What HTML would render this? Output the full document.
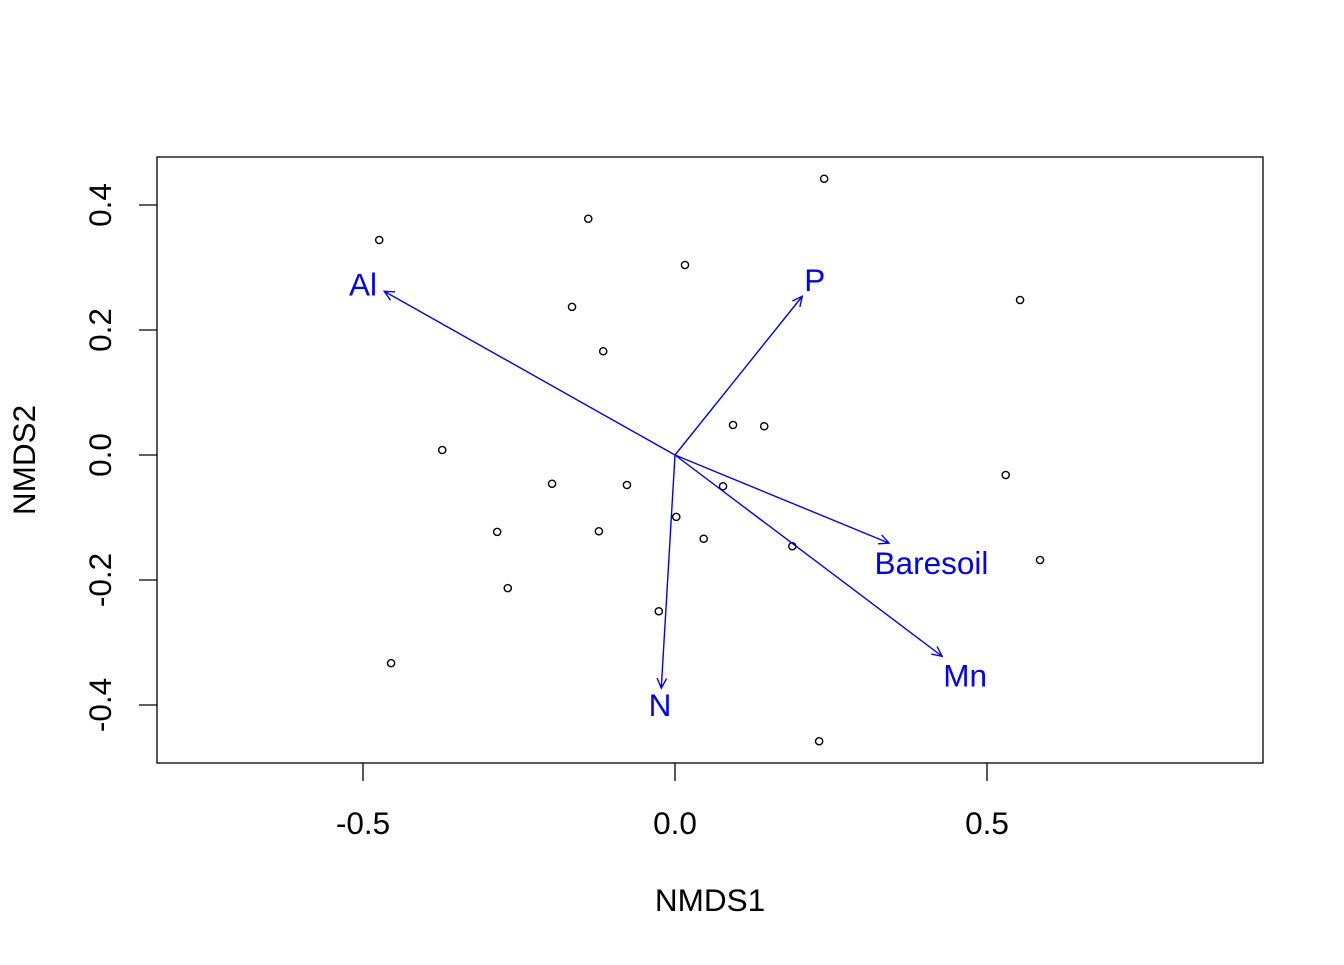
<!DOCTYPE html>
<html><head><meta charset="utf-8"><style>
body{margin:0;background:#fff}
svg text{font-family:"Liberation Sans",Arial,sans-serif}
</style></head><body>
<svg id="c" width="1344" height="960">
<rect x="157" y="157" width="1106" height="606" fill="none" stroke="#000" stroke-width="1.3"/>
<text x="710" y="911" font-size="31.5" text-anchor="middle">NMDS1</text>
<text transform="translate(35,460) rotate(-90)" font-size="31.5" text-anchor="middle">NMDS2</text>
</svg>
<script>
const siteX=[0.239,-0.139,-0.474,0.016,-0.165,-0.115,0.553,-0.373,0.093,0.143,-0.197,-0.077,0.077,0.002,-0.285,-0.122,0.046,0.188,0.530,0.585,-0.268,-0.026,-0.455,0.231];
const siteY=[0.442,0.378,0.344,0.304,0.237,0.166,0.248,0.008,0.048,0.046,-0.046,-0.048,-0.050,-0.099,-0.123,-0.122,-0.134,-0.146,-0.032,-0.168,-0.213,-0.250,-0.333,-0.458];
const vecNames=["Al","P","Baresoil","Mn","N"];
const vecX=[-0.466,0.204,0.343,0.428,-0.022];
const vecY=[0.262,0.254,-0.141,-0.322,-0.373];
const labX=[-0.500,0.224,0.411,0.465,-0.024];
const labY=[0.273,0.280,-0.173,-0.353,-0.400];
const xTicks=[-0.5,0.0,0.5];
const yTicks=[-0.4,-0.2,0.0,0.2,0.4];
const sx=v=>675+v*624, sy=v=>455-v*625;
const svg=document.getElementById('c'), NS='http://www.w3.org/2000/svg';
function mk(t,a,txt){const e=document.createElementNS(NS,t);for(const k in a)e.setAttribute(k,a[k]);if(txt!==undefined)e.textContent=txt;svg.appendChild(e);return e;}
xTicks.forEach(v=>{
 const l=mk('line',{x1:sx(v),x2:sx(v),y1:763,y2:781,stroke:'#000','stroke-width':1.3});
 
 
 const t=mk('text',{x:sx(v),y:834,'font-size':31.5,'text-anchor':'middle'},v.toFixed(1));
 
 
});
yTicks.forEach(v=>{
 const l=mk('line',{x1:139,x2:157,y1:sy(v),y2:sy(v),stroke:'#000','stroke-width':1.3});
 
 
 const t=mk('text',{transform:`translate(111,${sy(v)}) rotate(-90)`,'font-size':31.5,'text-anchor':'middle'},v.toFixed(1));
 
 
});
siteX.forEach((x,i)=>{
 const c=mk('circle',{cx:sx(x),cy:sy(siteY[i]),r:3.6,fill:'none',stroke:'#000','stroke-width':1.4});
 
 
});
vecNames.forEach((n,i)=>{
 const x1=sx(0),y1=sy(0),x2=sx(vecX[i]),y2=sy(vecY[i]);
 const a=Math.atan2(y2-y1,x2-x1),L=11,s=0.45;
 const d=`M${x1},${y1}L${x2},${y2}M${x2-L*Math.cos(a-s)},${y2-L*Math.sin(a-s)}L${x2},${y2}L${x2-L*Math.cos(a+s)},${y2-L*Math.sin(a+s)}`;
 const p=mk('path',{d:d,fill:'none',stroke:'#0000ff','stroke-width':1.4});
 
 
 const t=mk('text',{x:sx(labX[i]),y:sy(labY[i])+11,'font-size':31.5,fill:'#0000ff','text-anchor':'middle'},n);
 
 
});
</script>
</body></html>
